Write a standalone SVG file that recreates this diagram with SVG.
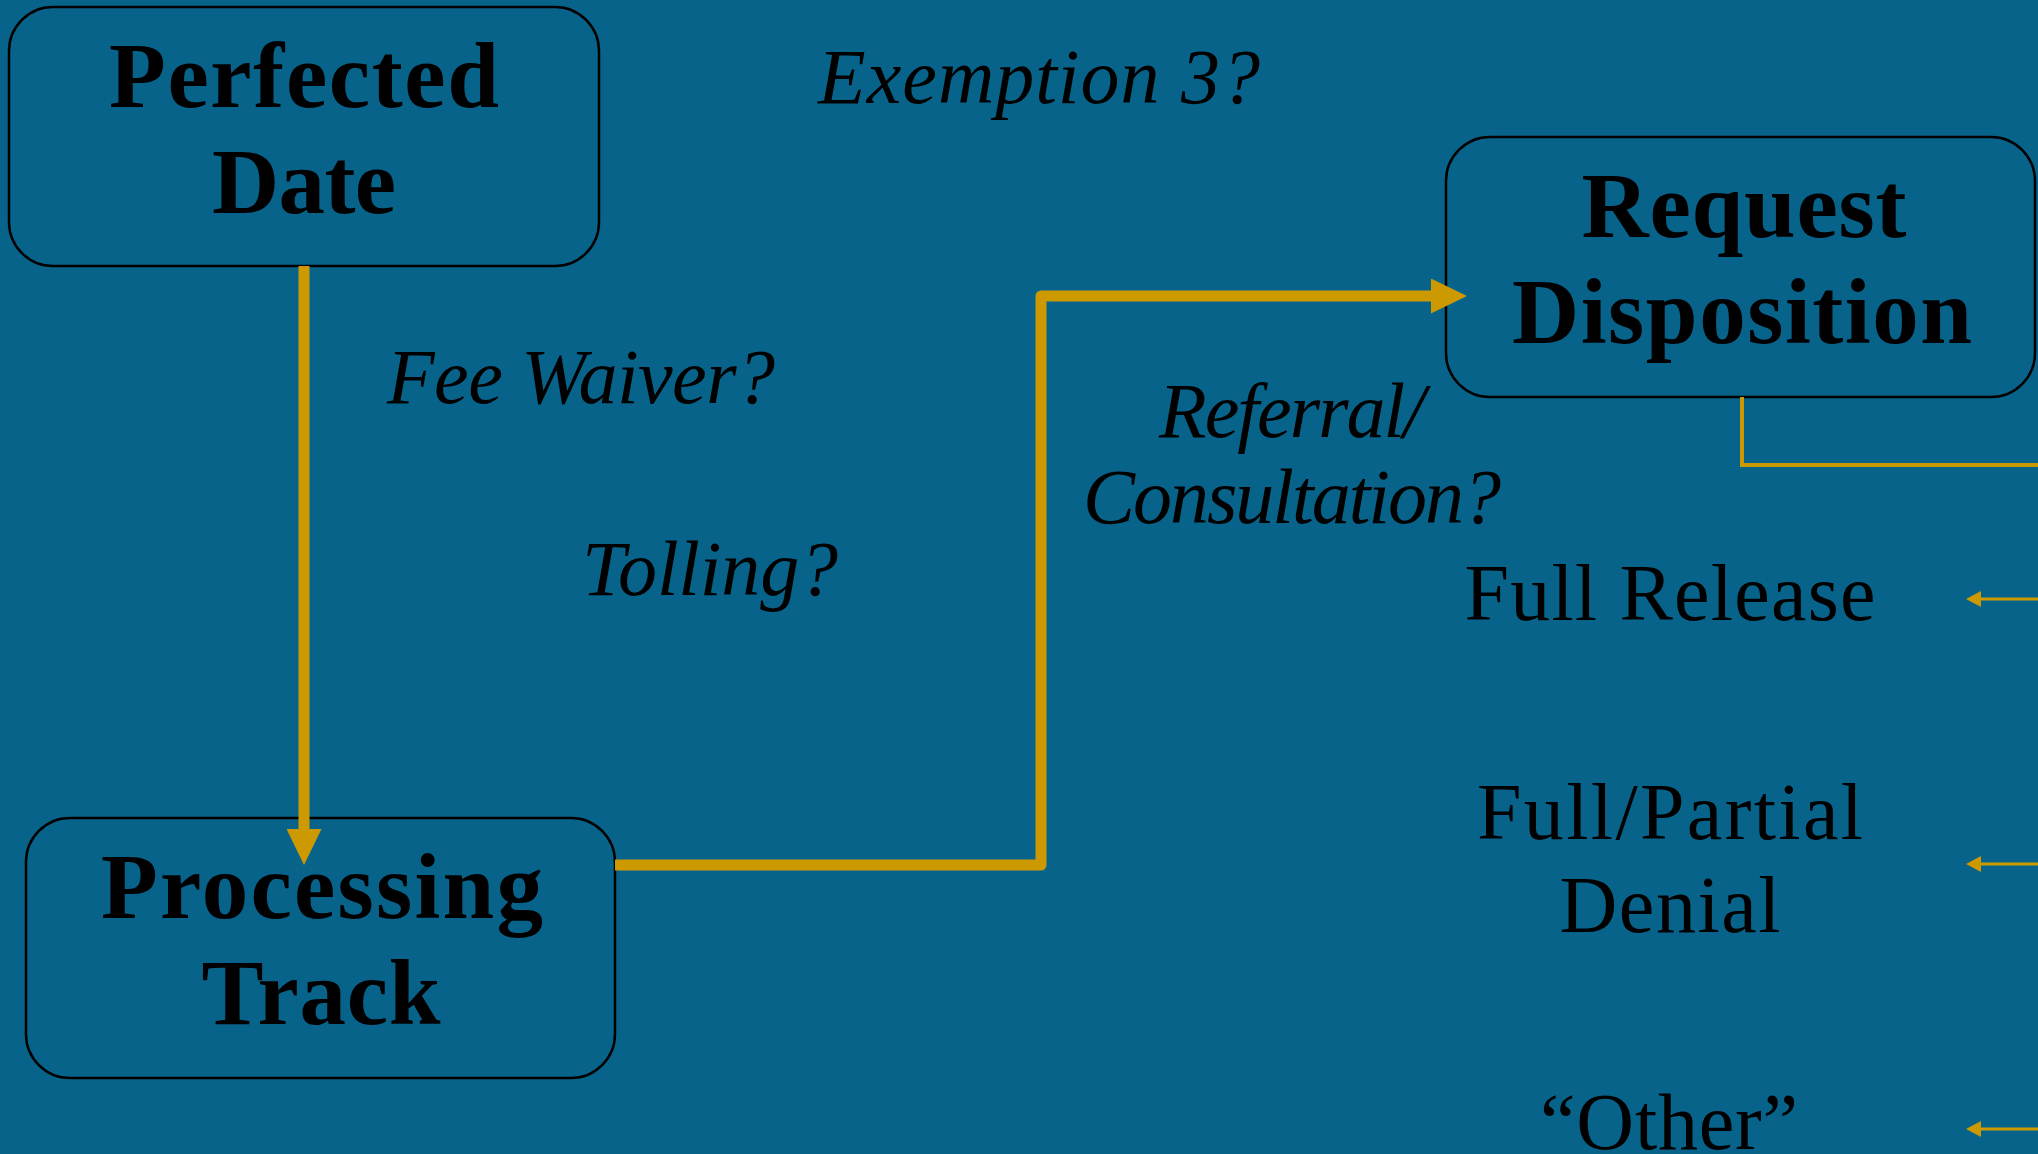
<svg xmlns="http://www.w3.org/2000/svg" width="2038" height="1154" viewBox="0 0 2038 1154">
  <style>
    .box { fill: #08638b; stroke: #000; stroke-width: 2.5; }
    .bold { font-family: "Liberation Serif", "DejaVu Serif", serif; font-weight: bold; font-size: 93px; fill: #000; text-anchor: middle; }
    .ital { font-family: "Liberation Serif", "DejaVu Serif", serif; font-style: italic; font-size: 78px; fill: #000; text-anchor: middle; }
    .reg { font-family: "Liberation Serif", "DejaVu Serif", serif; font-size: 80px; fill: #000; text-anchor: middle; }
    .thick { fill: none; stroke: #cc9900; stroke-width: 11; stroke-linejoin: round; }
    .thin { fill: none; stroke: #cc9900; stroke-width: 4; }
    .hair { fill: none; stroke: #cc9900; stroke-width: 3; }
  </style>
  <defs>
    <marker id="bigHead" markerUnits="userSpaceOnUse" markerWidth="36" markerHeight="35" refX="0" refY="17.5" orient="auto" viewBox="0 0 36 35">
      <path d="M0,0 L36,17.5 L0,35 z" fill="#cc9900"/>
    </marker>
    <marker id="smallHead" markerUnits="userSpaceOnUse" markerWidth="15" markerHeight="16" refX="0" refY="8" orient="auto" viewBox="0 0 15 16">
      <path d="M0,0 L15,8 L0,16 z" fill="#cc9900"/>
    </marker>
  </defs>
  <rect x="0" y="0" width="2038" height="1154" fill="#08638b"/>

  <g id="perfected-date">
    <rect class="box" x="9" y="7" width="590" height="259" rx="44" ry="44"/>
    <text class="bold" x="304" y="107" textLength="390">Perfected</text>
    <text class="bold" x="304" y="213" textLength="184">Date</text>
  </g>

  <g id="processing-track">
    <rect class="box" x="26" y="818" width="589" height="260" rx="44" ry="44"/>
    <text class="bold" x="322" y="918" textLength="442">Processing</text>
    <text class="bold" x="321" y="1024" textLength="239">Track</text>
  </g>

  <g id="request-disposition">
    <rect class="box" x="1446" y="137" width="589" height="260" rx="44" ry="44"/>
    <text class="bold" x="1744" y="237" textLength="325">Request</text>
    <text class="bold" x="1742" y="343" textLength="460">Disposition</text>
  </g>

  <g id="exemption-3">
    <text class="ital" x="1039" y="103" textLength="442">Exemption 3?</text>
  </g>
  <g id="fee-waiver">
    <text class="ital" x="581" y="403" textLength="388">Fee Waiver?</text>
  </g>
  <g id="tolling">
    <text class="ital" x="710" y="595" textLength="256">Tolling?</text>
  </g>
  <g id="referral-consultation">
    <text class="ital" x="1292" y="437" textLength="266">Referral/</text>
    <text class="ital" x="1292" y="523" textLength="418">Consultation?</text>
  </g>

  <g id="full-release">
    <text class="reg" x="1670" y="620" textLength="411">Full Release</text>
  </g>
  <g id="full-partial-denial">
    <text class="reg" x="1670" y="839" textLength="386">Full/Partial</text>
    <text class="reg" x="1670" y="932" textLength="221">Denial</text>
  </g>
  <g id="other">
    <text class="reg" x="1669" y="1149" textLength="258">“Other”</text>
  </g>

  <g id="connectors">
    <path class="thick" d="M304,266 L304,829" marker-end="url(#bigHead)"/>
    <path class="thick" d="M615,865 L1041,865 L1041,296 L1431,296" marker-end="url(#bigHead)"/>
    <path class="thin" d="M1742,397 L1742,465 L2038,465"/>
    <path class="hair" d="M2038,599 L1981,599" marker-end="url(#smallHead)"/>
    <path class="hair" d="M2038,864 L1981,864" marker-end="url(#smallHead)"/>
    <path class="hair" d="M2038,1129 L1981,1129" marker-end="url(#smallHead)"/>
  </g>
</svg>
